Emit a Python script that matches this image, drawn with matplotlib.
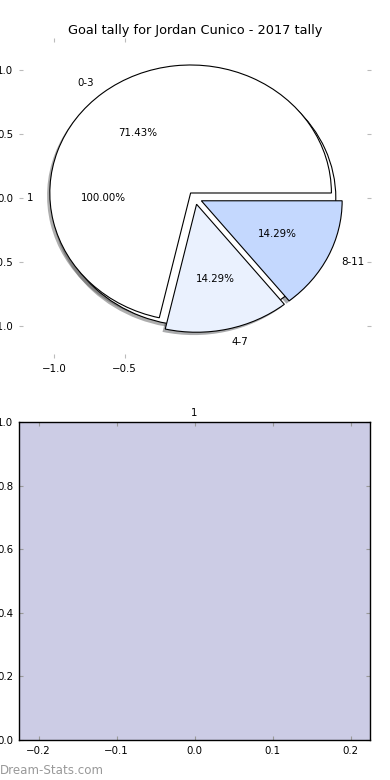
import matplotlib
matplotlib.use('Agg')
import matplotlib.pyplot as plt

# data
player = 'Jordan Cunico'
season = '2017'
single_labels = ['1']
single_values = [1]
range_labels = ['0-3', '4-7', '8-11']
range_values = [5, 1, 1]
range_colors = ['#ffffff', '#eaf1fe', '#c4d8fe']
bar_labels = ['1']
bar_values = [0]

plt.rcParams['font.family'] = 'DejaVu Sans'
plt.rcParams['font.size'] = 7.4

fig = plt.figure(figsize=(3.9, 7.8), dpi=100)

# top: the two pies drawn on the same axes
ax1 = fig.add_axes([19/390, 1 - 358/780, 352/390, 320/780])
wp = {'edgecolor': 'black', 'linewidth': 0.8}
sh = {'ox': -0.014, 'oy': -0.016, 'linewidth': 0, 'alpha': 0.45}
ax1.pie(single_values, labels=single_labels, colors=['white'], autopct='%.2f%%',
        labeldistance=1.15, pctdistance=0.65, shadow=sh, wedgeprops=wp)
ax1.pie(range_values, labels=range_labels, colors=range_colors, autopct='%.2f%%',
        explode=[0.05] * len(range_values), shadow=sh, wedgeprops=wp)
ax1.set_aspect('auto')
ax1.set_xlim(-1.25, 1.25)
ax1.set_ylim(-1.25, 1.25)
ax1.set_xticks([-1.0, -0.5])
ax1.set_yticks([-1.0, -0.5, 0.0, 0.5, 1.0])
ax1.tick_params(direction='in', length=3, color='#bbbbbb', top=True, right=True,
                labelsize=7.4, pad=4)
ax1.set_title('Goal tally for %s - %s tally' % (player, season), fontsize=9.3, pad=3)

# bottom: empty bar chart
ax2 = fig.add_axes([19/390, 1 - 740/780, 351/390, 318/780])
ax2.set_facecolor('#ccccE5')
ax2.bar(range(len(bar_values)), bar_values, width=0.45, color='#8888cc')
ax2.set_xlim(-0.225, 0.225)
ax2.set_ylim(0, 1)
ax2.set_xticks([-0.2, -0.1, 0.0, 0.1, 0.2])
ax2.set_yticks([0.0, 0.2, 0.4, 0.6, 0.8, 1.0])
ax2.tick_params(direction='in', length=3, color='#999999', top=True, right=True,
                labelsize=7.4, pad=4)
for s in ax2.spines.values():
    s.set_linewidth(1.0)
ax2.set_title(bar_labels[0], fontsize=7.4, pad=4)

fig.text(0.0, 1 - 770/780, 'Dream-Stats.com', color='#999999', fontsize=8.6,
         ha='left', va='center')

fig.savefig('out.png', dpi=100)
